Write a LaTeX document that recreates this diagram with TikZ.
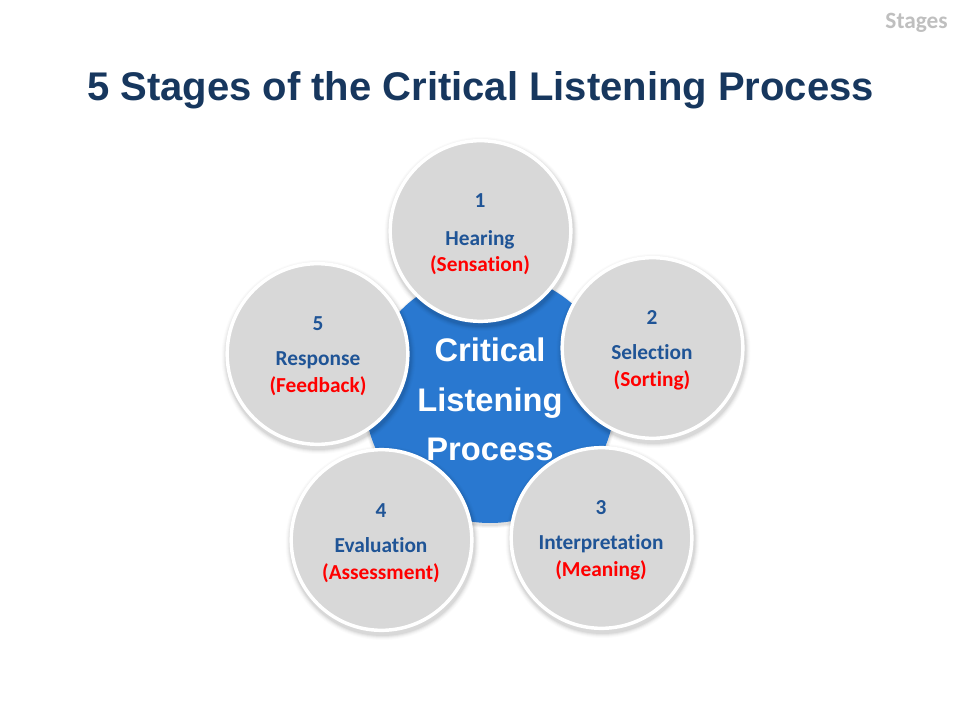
\documentclass[tikz,border=0pt]{standalone}
\usepackage{fontspec}
\setmainfont[Ligatures=NoCommon]{Carlito}
\newfontfamily\arialf{Liberation Sans}
\definecolor{titleblue}{RGB}{23,55,94}
\definecolor{stageblue}{RGB}{31,84,150}
\definecolor{centerblue}{RGB}{41,120,208}
\definecolor{stagegray}{RGB}{216,216,216}
\definecolor{tagray}{RGB}{191,191,191}
\tikzset{
  stagecircle/.style={circle,fill=stagegray,draw=white,line width=2.6pt,minimum size=135.5pt,inner sep=0pt},
  numlab/.style={font=\bfseries\fontsize{16pt}{18pt}\selectfont,text=stageblue,inner sep=0pt,anchor=base},
  namelab/.style={font=\bfseries\fontsize{16pt}{18pt}\selectfont,text=stageblue,inner sep=0pt,anchor=base},
  taglab/.style={font=\bfseries\fontsize{16pt}{18pt}\selectfont,text=red,inner sep=0pt,anchor=base},
  centerlab/.style={font=\arialf\bfseries\fontsize{24.5pt}{26pt}\selectfont,text=white,inner sep=0pt,anchor=base},
}
\newcommand{\softshadow}[2]{%
  \foreach \rr/\op in {97/0.015,96/0.02,95/0.03,94/0.04,93/0.05}{
    \fill[black,opacity=\op] (#1+1,#2+3) circle[radius=\rr];
  }%
}
\begin{document}
\begin{tikzpicture}[x=0.75pt,y=-0.75pt]
\useasboundingbox (0,0) rectangle (960,720);
\fill[white] (0,0) rectangle (960,720);
\node[font=\bfseries\fontsize{17.5pt}{19pt}\selectfont,text=tagray,anchor=base east,inner sep=0pt] (tag) at (948,28.5) {Stages};
\node[font=\arialf\bfseries\fontsize{30pt}{32pt}\selectfont,text=titleblue,anchor=base,inner sep=0pt] (title) at (480.5,101) {5 Stages of the Critical Listening Process};
% centre
\foreach \rr/\op in {128/0.03,127/0.04,126/0.05}{\fill[black,opacity=\op] (490,400) circle[radius=\rr];}
\node[circle,fill=centerblue,minimum size=187.5pt,inner sep=0pt] (center) at (490,398) {};
\node[centerlab] (c1) at (490,361) {Critical};
\node[centerlab] (c2) at (490,411) {Listening};
\node[centerlab] (c3) at (490,460) {Process};
% stages
\softshadow{652.5}{348}
\node[stagecircle] (s2) at (652.5,348) {};
\softshadow{601.5}{538}
\node[stagecircle] (s3) at (601.5,538) {};
\softshadow{381.5}{540}
\node[stagecircle] (s4) at (381.5,540) {};
\softshadow{317.5}{354}
\node[stagecircle] (s5) at (317.5,354) {};
\softshadow{480.5}{231}
\node[stagecircle] (s1) at (480.5,231) {};
\node[numlab] (n1) at (480,207.5) {1};
\node[namelab] (h1) at (480,246) {Hearing};
\node[taglab] (t1) at (480,271.5) {(Sensation)};
\node[numlab] (n2) at (652,324.5) {2};
\node[namelab] (h2) at (652,359.5) {Selection};
\node[taglab] (t2) at (652,386.5) {(Sorting)};
\node[numlab] (n3) at (601,514.5) {3};
\node[namelab] (h3) at (601,549.5) {Interpretation};
\node[taglab] (t3) at (601,576.5) {(Meaning)};
\node[numlab] (n4) at (381,517.5) {4};
\node[namelab] (h4) at (381,552.5) {Evaluation};
\node[taglab] (t4) at (381,579.5) {(Assessment)};
\node[numlab] (n5) at (318,330.5) {5};
\node[namelab] (h5) at (318,365.5) {Response};
\node[taglab] (t5) at (318,392.5) {(Feedback)};
\end{tikzpicture}
\end{document}
